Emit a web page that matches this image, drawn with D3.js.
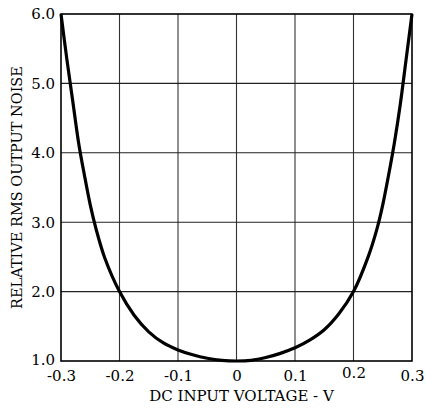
<!DOCTYPE html>
<html>
<head>
<meta charset="utf-8">
<script src="https://cdn.jsdelivr.net/npm/d3@7"></script>
<style>
  html, body { margin: 0; padding: 0; background: #fff; }
  svg { display: block; }
  text { font-family: "DejaVu Serif", serif; fill: #000; }
</style>
</head>
<body>
<svg id="chart" width="426" height="410"></svg>
<script>
// Data
const voltage = [-0.3, -0.29, -0.28, -0.27, -0.26, -0.25, -0.24, -0.225, -0.2, -0.175, -0.15, -0.125, -0.1, -0.075, -0.05, -0.025, 0, 0.025, 0.05, 0.075, 0.1, 0.125, 0.15, 0.175, 0.2, 0.225, 0.24, 0.25, 0.26, 0.27, 0.28, 0.29, 0.3];
const noise   = [6.0, 5.35, 4.75, 4.15, 3.68, 3.25, 2.9, 2.48, 2.0, 1.66, 1.42, 1.26, 1.16, 1.09, 1.04, 1.01, 1.0, 1.01, 1.05, 1.11, 1.19, 1.3, 1.45, 1.68, 2.0, 2.5, 2.9, 3.25, 3.68, 4.15, 4.7, 5.35, 6.0];
const xTicks = [-0.3, -0.2, -0.1, 0, 0.1, 0.2, 0.3];
const xTickLabels = ["-0.3", "-0.2", "-0.1", "0", "0.1", "0.2", "0.3"];
const yTicks = [1, 2, 3, 4, 5, 6];
const yTickLabels = ["1.0", "2.0", "3.0", "4.0", "5.0", "6.0"];
const xTitle = "DC INPUT VOLTAGE - V";
const yTitle = "RELATIVE RMS OUTPUT NOISE";

const W = 426, H = 410;
const margin = {left: 61, right: 14, top: 14, bottom: 49};
const svg = d3.select("#chart");
const x = d3.scaleLinear().domain([-0.3, 0.3]).range([margin.left, W - margin.right]);
const y = d3.scaleLinear().domain([1, 6]).range([H - margin.bottom, margin.top]);

const g = svg.append("g");

// grid
g.selectAll(".vgrid").data(xTicks.slice(1, -1)).enter().append("line")
  .attr("x1", d => x(d)).attr("x2", d => x(d))
  .attr("y1", y(1)).attr("y2", y(6))
  .attr("stroke", "#333").attr("stroke-width", 1.1);
g.selectAll(".hgrid").data(yTicks.slice(1, -1)).enter().append("line")
  .attr("x1", x(-0.3)).attr("x2", x(0.3))
  .attr("y1", d => y(d)).attr("y2", d => y(d))
  .attr("stroke", "#222").attr("stroke-width", 1.1);

// frame
g.append("rect")
  .attr("x", x(-0.3)).attr("y", y(6))
  .attr("width", x(0.3) - x(-0.3)).attr("height", y(1) - y(6))
  .attr("fill", "none").attr("stroke", "#000").attr("stroke-width", 1.6);

// axes (labels only)
const xAxis = d3.axisBottom(x).tickValues(xTicks)
  .tickFormat((d, i) => xTickLabels[i]).tickSize(0).tickPadding(9);
const xg = svg.append("g").attr("transform", `translate(0,${y(1)})`).call(xAxis);
xg.select(".domain").remove();
xg.selectAll("text").attr("font-family", "DejaVu Serif").attr("font-size", 15)
  .attr("dy", (d) => d === 0.2 ? "0.5em" : "0.71em");

const yAxis = d3.axisLeft(y).tickValues(yTicks)
  .tickFormat((d, i) => yTickLabels[i]).tickSize(0).tickPadding(6);
const yg = svg.append("g").attr("transform", `translate(${x(-0.3)},0)`).call(yAxis);
yg.select(".domain").remove();
yg.selectAll("text").attr("font-family", "DejaVu Serif").attr("font-size", 15)
  .attr("dy", (d) => d === 1 ? "0.2em" : "0.32em");

// titles
svg.append("text").attr("x", (x(-0.3) + x(0.3)) / 2 + 5).attr("y", 401)
  .attr("text-anchor", "middle").attr("font-size", 15).text(xTitle);
svg.append("text")
  .attr("transform", `translate(22,${(y(1) + y(6)) / 2}) rotate(-90)`)
  .attr("text-anchor", "middle").attr("font-size", 14.5).text(yTitle);

// curve
const line = d3.line().x((d, i) => x(voltage[i])).y(d => y(d)).curve(d3.curveCatmullRom.alpha(0.5));
g.append("path").datum(noise).attr("d", line)
  .attr("fill", "none").attr("stroke", "#000").attr("stroke-width", 3.2)
  .attr("stroke-linejoin", "round");
</script>
</body>
</html>
